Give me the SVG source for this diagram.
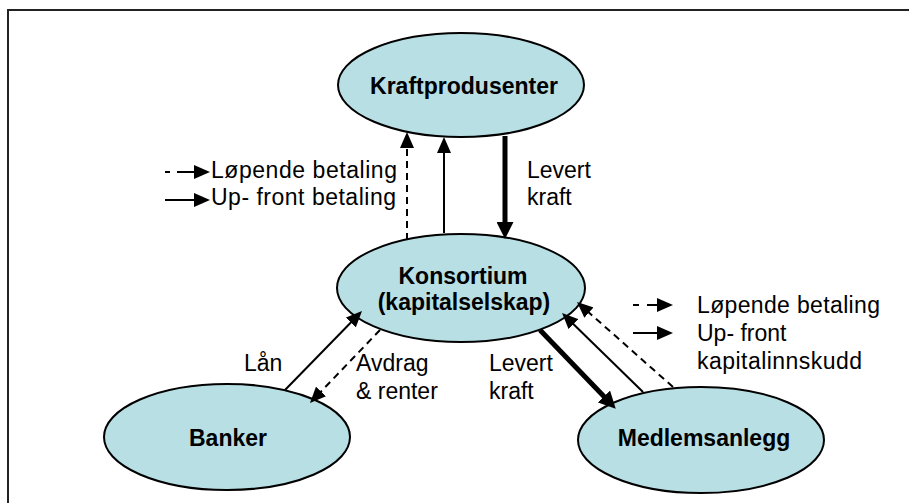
<svg xmlns="http://www.w3.org/2000/svg" width="909" height="503" viewBox="0 0 909 503">
<style>
.node ellipse{fill:#b8dfe3;stroke:#000;stroke-width:2}
.lbl{font-family:"Liberation Sans",Arial,sans-serif;font-size:23px;fill:#000}
.b{font-weight:bold;text-anchor:middle}
.ln{stroke:#000;fill:none;stroke-width:2}
.thick{stroke-width:5}
.dash{stroke-dasharray:7,5}
</style>
<defs>
<marker id="ah" markerUnits="userSpaceOnUse" markerWidth="16" markerHeight="14" viewBox="0 0 16 14" refX="6" refY="7" orient="auto"><path d="M0,0 L16,7 L0,14 z" fill="#000"/></marker>
<marker id="ahT" markerUnits="userSpaceOnUse" markerWidth="17" markerHeight="17" viewBox="0 0 17 17" refX="6" refY="8.5" orient="auto"><path d="M0,0 L17,8.5 L0,17 z" fill="#000"/></marker>
</defs>
<rect width="909" height="503" fill="#fff"/>
<rect x="8" y="10" width="940" height="520" fill="none" stroke="#222" stroke-width="2"/>

<g id="kraftprodusenter" class="node"><ellipse cx="461" cy="85" rx="123" ry="52"/><text class="lbl b" x="464" y="94">Kraftprodusenter</text></g>
<g id="konsortium" class="node"><ellipse cx="461" cy="288" rx="124" ry="54"/><text class="lbl b" x="463" y="284">Konsortium</text><text class="lbl b" x="464" y="310">(kapitalselskap)</text></g>
<g id="banker" class="node"><ellipse cx="227" cy="437" rx="123" ry="53"/><text class="lbl b" x="228" y="446">Banker</text></g>
<g id="medlemsanlegg" class="node"><ellipse cx="701" cy="440" rx="123" ry="53"/><text class="lbl b" x="704" y="446">Medlemsanlegg</text></g>

<g id="connectors">
<line class="ln dash" x1="407" y1="240" x2="407" y2="142" marker-end="url(#ah)"/>
<line class="ln" x1="444" y1="233" x2="444" y2="147" marker-end="url(#ah)"/>
<line class="ln thick" x1="505" y1="136" x2="505" y2="228" marker-end="url(#ahT)"/>
<line class="ln" x1="285" y1="390" x2="355" y2="318.2" marker-end="url(#ah)"/>
<line class="ln dash" x1="380" y1="330" x2="316.9" y2="395.8" marker-end="url(#ah)"/>
<line class="ln thick" x1="540" y1="330" x2="608.1" y2="400.8" marker-end="url(#ahT)"/>
<line class="ln" x1="643" y1="392" x2="569.2" y2="320" marker-end="url(#ah)"/>
<line class="ln dash" x1="673" y1="387" x2="584.5" y2="308.6" marker-end="url(#ah)"/>
</g>

<g id="legend-top">
<path class="ln" d="M165,172 h5 M177,172 H200" marker-end="url(#ah)"/>
<line class="ln" x1="165" y1="200" x2="200" y2="200" marker-end="url(#ah)"/>
<text class="lbl" x="211" y="178" textLength="186" lengthAdjust="spacing">Løpende betaling</text>
<text class="lbl" x="211" y="205" textLength="185" lengthAdjust="spacing">Up- front betaling</text>
</g>
<g id="legend-right">
<path class="ln" d="M633,305 h6 M647,305 H663" marker-end="url(#ah)"/>
<line class="ln" x1="633" y1="333" x2="663" y2="333" marker-end="url(#ah)"/>
<text class="lbl" x="697" y="313" textLength="183" lengthAdjust="spacing">Løpende betaling</text>
<text class="lbl" x="697" y="341">Up- front</text>
<text class="lbl" x="697" y="369" textLength="165" lengthAdjust="spacing">kapitalinnskudd</text>
</g>
<g id="labels">
<text class="lbl" x="527" y="178">Levert</text>
<text class="lbl" x="527" y="205">kraft</text>
<text class="lbl" x="244" y="371">Lån</text>
<text class="lbl" x="356" y="371">Avdrag</text>
<text class="lbl" x="356" y="399">&amp; renter</text>
<text class="lbl" x="489" y="371">Levert</text>
<text class="lbl" x="489" y="399">kraft</text>
</g>
</svg>
